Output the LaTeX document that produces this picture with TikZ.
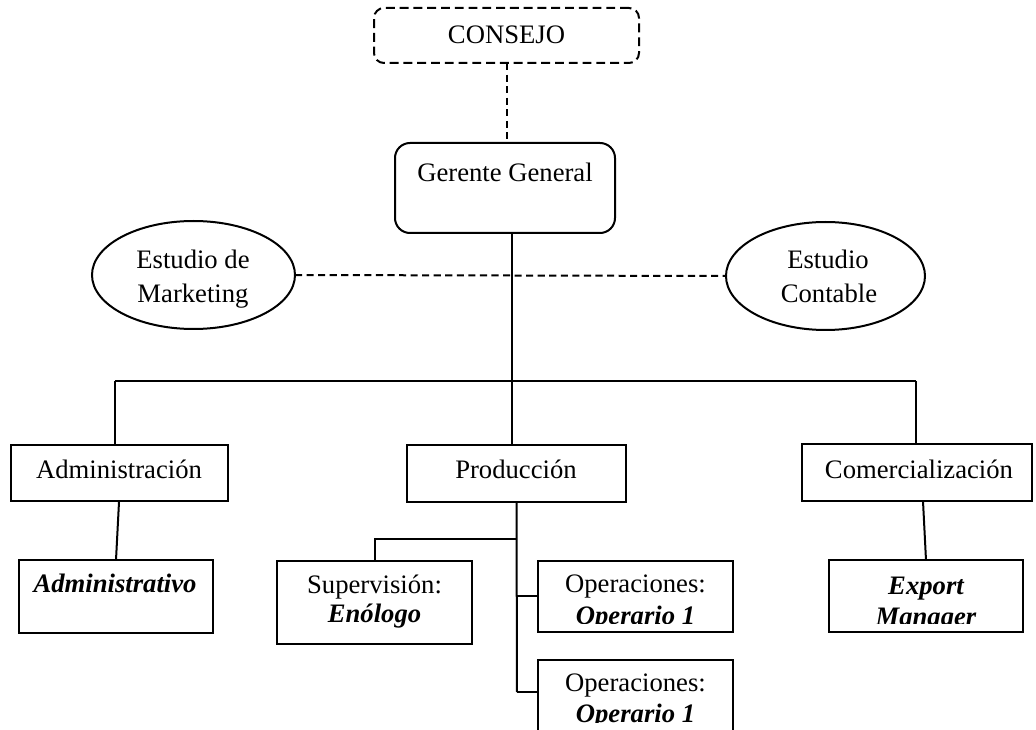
\documentclass[tikz,border=0pt]{standalone}
\usepackage{fontspec}
\setmainfont{Liberation Serif}
\usetikzlibrary{shapes.geometric,fit}
\begin{document}
\begin{tikzpicture}[x=0.45pt,y=-0.45pt,
  every node/.style={inner sep=0pt, outer sep=0pt},
  box/.style={draw, line width=0.9pt, rectangle},
  rbox/.style={box, rounded corners=6.75pt},
  dbox/.style={box, rounded corners=4.5pt, dash pattern=on 4pt off 2.2pt},
  oval/.style={draw, line width=0.9pt, ellipse},
  lbl/.style={anchor=base, font=\fontsize{12}{14}\selectfont},
  ital/.style={anchor=base, font=\fontsize{12}{14}\selectfont\bfseries\itshape},
  link/.style={line width=0.9pt},
  dlink/.style={line width=0.9pt, dash pattern=on 3.2pt off 2pt}]

\clip (0,0) rectangle (1036,730);

% top of the chart
\node[dbox, fit={(374,8) (639,63)}] (consejo) {};
\node[lbl] (consejoT) at (506.5,44) {CONSEJO};

\node[rbox, fit={(395,143) (615,233)}] (gerente) {};
\node[lbl] (gerenteT) at (505,182) {Gerente General};

% external advisors
\node[oval, minimum width=91.35pt, minimum height=48.6pt] (mkt) at (193.5,275) {};
\node[lbl] (mktA) at (193,269) {Estudio de};
\node[lbl] (mktB) at (193,303) {Marketing};

\node[oval, minimum width=89.55pt, minimum height=48.6pt] (cont) at (825.5,276) {};
\node[lbl] (contA) at (828,269) {Estudio};
\node[lbl] (contB) at (829,303) {Contable};

% departments
\node[box, fit={(11,445) (228,501)}] (adm) {};
\node[lbl] (admT) at (119,479) {Administración};

\node[box, fit={(407,445) (626,502)}] (pro) {};
\node[lbl] (proT) at (516,479) {Producción};

\node[box, fit={(802,444) (1032,501)}] (com) {};
\node[lbl] (comT) at (919,479) {Comercialización};

% staff under each department
\node[box, fit={(19,560) (213,633)}] (admv) {};
\node[ital] (admvT) at (115,593) {Administrativo};

\node[box, fit={(277,561) (472,644)}] (sup) {};
\node[lbl] (supA) at (374.5,594) {Supervisión:};
\node[ital] (supB) at (374.5,623) {Enólogo};

\node[box, fit={(538,561) (733,632)}] (op1) {};
\begin{scope}
  \clip (538,561) rectangle (733,623.5);
  \node[lbl] (op1A) at (635.5,593) {Operaciones:};
  \node[ital] (op1B) at (635.5,624) {Operario 1};
\end{scope}

\node[box, fit={(538,660) (733,760)}] (op2) {};
\begin{scope}
  \clip (538,660) rectangle (733,722.5);
  \node[lbl] (op2A) at (635.5,692) {Operaciones:};
  \node[ital] (op2B) at (635.5,723) {Operario 1};
\end{scope}

\node[box, fit={(829,560) (1023,632)}] (exp) {};
\begin{scope}
  \clip (829,560) rectangle (1023,623.5);
  \node[ital] (expA) at (926,595) {Export};
  \node[ital] (expB) at (926,626) {Manager};
\end{scope}

% connectors
\draw[dlink] (consejo.south) -- (consejo.south |- gerente.north);
\draw[dlink] (mkt.east) -- (cont.west);

\coordinate (trunk) at (512,381);
\coordinate (barL) at (115,381);
\coordinate (barR) at (916,381);
\draw[link] (gerente.south -| trunk) -- (trunk |- pro.north);
\draw[link] (barL) -- (barR);
\draw[link] (barL) -- (barL |- adm.north);
\draw[link] (barR) -- (barR |- com.north);

\draw[link] ([xshift=-0.2pt]adm.south) -- (admv.north);
\draw[link] ([xshift=2.7pt]com.south) -- (exp.north);

\coordinate (prodEnd) at (517,692);
\coordinate (supBranch) at (517,539);
\draw[link] (pro.south) -- (prodEnd);
\draw[link] (supBranch) -- (supBranch -| sup.north) -- (sup.north);
\draw[link] (op1.west -| prodEnd) -- (op1.west);
\draw[link] (prodEnd) -- (op2.west |- prodEnd);
\end{tikzpicture}
\end{document}
